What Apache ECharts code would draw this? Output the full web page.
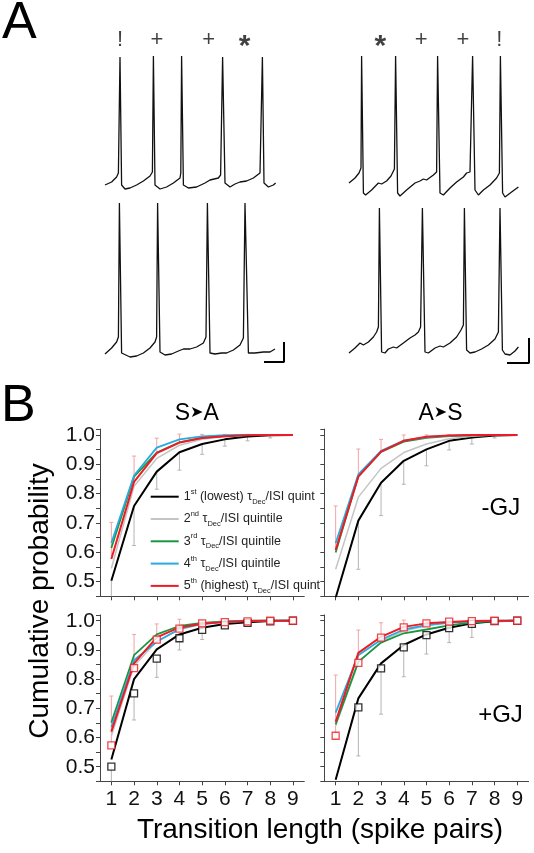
<!DOCTYPE html>
<html><head><meta charset="utf-8">
<script src="https://cdn.jsdelivr.net/npm/echarts@6/dist/echarts.min.js"></script>
<style>html,body{margin:0;padding:0;background:#fff}#c{width:534px;height:853px}</style>
</head><body><div id="c"></div>
<script>
const FONT = "'Liberation Sans', Arial, 'DejaVu Sans', sans-serif";

// ---------- Panel A: membrane potential traces (time in ms, voltage in mV) ----------
const tTL = [0,33,58,67,75,83,100,125,158,192,225,237,242,250,275,308,342,375,379,383,392,417,458,500,525,567,578,588,600,625,650,675,708,742,775,787,795,817,842,853];
const vTL = [-60,-57,-52,-48,68,-60,-64,-63,-60,-56,-51,-47,69,-60,-64,-62,-58,-53,-48,69,-60,-63,-62,-58,-55,-53,-50,68,-58,-62,-59,-57,-56,-53,-48,68,-58,-62,-60,-58];
const tTR = [0,30,50,60,63,72,83,113,147,163,188,210,227,233,243,255,288,330,355,372,388,422,438,443,455,472,505,538,572,588,605,613,618,630,647,672,705,738,752,757,768,780,813,847];
const vTR = [-58,-53,-48,-43,69,-68,-70,-65,-58,-59,-56,-51,-44,69,-68,-71,-65,-58,-56,-54,-55,-50,-47,69,-68,-70,-63,-57,-52,-48,-47,-46,69,-65,-70,-65,-60,-53,-48,69,-68,-72,-67,-62];
const tBL = [0,33,58,67,72,83,125,158,192,225,250,258,263,275,300,333,367,392,425,458,492,505,512,525,550,583,608,642,675,692,700,717,750,792,825,850];
const vBL = [-64,-58,-52,-47,87,-63,-67,-66,-63,-58,-52,-47,87,-62,-65,-64,-61,-59,-59,-57,-53,-47,87,-63,-64,-63,-63,-60,-55,-48,87,-63,-63,-62,-62,-59];
const tBR = [0,30,55,72,97,122,138,147,152,163,180,197,222,238,272,305,330,347,358,367,380,397,430,455,472,505,538,560,572,577,588,605,630,663,697,730,747,755,767,780,805,830,847];
const vBR = [-63,-58,-53,-55,-52,-47,-42,-37,82,-62,-63,-59,-57,-58,-53,-48,-45,-42,-37,82,-62,-63,-58,-56,-57,-53,-47,-40,-35,82,-60,-63,-62,-59,-55,-49,-42,82,-60,-64,-65,-61,-57];

// spike-pair annotations above the upper traces
const markTL_t = [75, 260, 518, 698];
const markTL_s = ['!', '+', '+', '*'];
const markTR_t = [157, 361, 570, 752];
const markTR_s = ['*', '+', '+', '!'];
const markLevel = 85; // mV

// scale bars: [end time ms, base mV, length ms, height mV]
const scaleBL = [895, -72, 100, 20];
const scaleBR = [900, -73, 110, 25];

// ---------- Panel B: cumulative probability ----------
const xCats = ['1','2','3','4','5','6','7','8','9'];
const qNames = ['1st','2nd','3rd','4th','5th'];
const qColors = ['#000000','#c4c4c4','#1a9641','#29aae1','#ed1c24'];
const qWidths = [2, 1.5, 1.8, 1.8, 2];

// S->A, -GJ
const saN_q1 = [0.503,0.758,0.875,0.941,0.969,0.985,0.995,0.999,1.0];
const saN_q2 = [0.545,0.825,0.920,0.965,0.985,0.995,0.999,1.0,1.0];
const saN_q3 = [0.615,0.858,0.940,0.975,0.990,0.997,1.0,1.0,1.0];
const saN_q4 = [0.632,0.862,0.957,0.985,0.995,0.999,1.0,1.0,1.0];
const saN_q5 = [0.577,0.840,0.938,0.974,0.990,0.996,0.999,1.0,1.0];
const saN_sd5 = [0.125,0.088,0.051,0.029,0.012,0.006,0.003,0.001,0];
const saN_sd1 = [0.08,0.135,0.06,0.061,0.035,0.023,0.015,0.009,0];
// A->S, -GJ
const asN_q1 = [0.445,0.708,0.837,0.912,0.951,0.980,0.991,0.998,1.0];
const asN_q2 = [0.542,0.788,0.886,0.940,0.969,0.987,0.996,1.0,1.0];
const asN_q3 = [0.599,0.860,0.942,0.977,0.990,0.996,0.999,1.0,1.0];
const asN_q4 = [0.631,0.866,0.946,0.981,0.993,0.998,1.0,1.0,1.0];
const asN_q5 = [0.608,0.858,0.943,0.980,0.994,0.998,1.0,1.0,1.0];
const asN_sd5 = [0.15,0.094,0.042,0.02,0.006,0.003,0.001,0,0];
const asN_sd1 = [0.1,0.166,0.112,0.08,0.056,0.031,0.022,0.008,0];
// S->A, +GJ
const saP_q1 = [0.525,0.800,0.902,0.953,0.976,0.989,0.995,0.999,1.0];
const saP_q2 = [0.605,0.845,0.930,0.970,0.988,0.996,0.999,1.0,1.0];
const saP_q3 = [0.651,0.882,0.953,0.982,0.993,0.998,1.0,1.0,1.0];
const saP_q4 = [0.635,0.865,0.928,0.972,0.990,0.997,0.999,1.0,1.0];
const saP_q5 = [0.620,0.854,0.943,0.977,0.990,0.996,0.999,1.0,1.0];
const saP_m1 = [0.500,0.751,0.870,0.940,0.969,0.984,0.993,0.998,1.0];
const saP_m5 = [0.573,0.838,0.935,0.973,0.991,0.995,0.998,1.0,1.0];
const saP_sd5 = [0.169,0.115,0.054,0.032,0.01,0.005,0.002,0,0];
const saP_sd1 = [0.1,0.091,0.064,0.04,0.033,0.01,0.005,0,0];
// A->S, +GJ
const asP_q1 = [0.455,0.734,0.854,0.917,0.953,0.976,0.991,0.998,1.0];
const asP_q2 = [0.640,0.855,0.930,0.965,0.983,0.993,0.998,1.0,1.0];
const asP_q3 = [0.645,0.860,0.925,0.957,0.970,0.984,0.994,0.999,1.0];
const asP_q4 = [0.685,0.882,0.935,0.970,0.985,0.994,0.998,1.0,1.0];
const asP_q5 = [0.654,0.890,0.945,0.979,0.991,0.996,0.999,1.0,1.0];
const asP_m1 = [0.449,0.703,0.837,0.909,0.951,0.975,0.989,0.999,1.0];
const asP_m5 = [0.606,0.856,0.942,0.977,0.991,0.997,0.999,1.0,1.0];
const asP_sd5 = [0.208,0.112,0.051,0.025,0.008,0.003,0.001,0,0];
const asP_sd1 = [0.1,0.166,0.157,0.101,0.065,0.05,0.046,0.009,0];

const legendLabels = {
  '1st': '1{s|st} (lowest) τ{d|Dec}/ISI quint',
  '2nd': '2{s|nd} τ{d|Dec}/ISI quintile',
  '3rd': '3{s|rd} τ{d|Dec}/ISI quintile',
  '4th': '4{s|th} τ{d|Dec}/ISI quintile',
  '5th': '5{s|th} (highest) τ{d|Dec}/ISI quint'
};

// ---------- build ----------
const zip = (a, b) => a.map((x, i) => [x, b[i]]);
const chart = echarts.init(document.getElementById('c'), null, {renderer: 'canvas'});

const grids = [
  {left:105, top:35, width:180, height:170},
  {left:349, top:35, width:180, height:170},
  {left:105, top:190, width:180, height:180},
  {left:349, top:190, width:180, height:180},
  {left:100, top:429.1, width:204.3, height:167.2},
  {left:324.3, top:429.1, width:204.3, height:167.2},
  {left:100, top:614.9, width:204.3, height:166.4},
  {left:324.3, top:614.9, width:204.3, height:166.4}
];

const xAxes = [], yAxes = [];
for (let i = 0; i < 4; i++) {
  xAxes.push({gridIndex:i, type:'value', min:0, max:900, show:false});
  yAxes.push({gridIndex:i, type:'value', min:-80, max: i < 2 ? 90 : 100, show:false});
}
const axCol = '#444';
for (let i = 4; i < 8; i++) {
  const bottomRow = i >= 6, leftCol = (i % 2) === 0;
  xAxes.push({gridIndex:i, type:'category', data:xCats, boundaryGap:true,
    axisLine:{show:true, onZero:false, lineStyle:{color:axCol, width:1}},
    axisTick:{show:true, alignWithLabel:true, length:4, lineStyle:{color:axCol}},
    axisLabel:{show:bottomRow, fontSize:21, color:'#111', margin:7, fontFamily:FONT},
    splitLine:{show:false}});
  yAxes.push({gridIndex:i, type:'value', min:0.45, max:1.02, interval:0.05,
    axisLine:{show:true, onZero:false, lineStyle:{color:axCol, width:1}},
    axisTick:{show:true, length:4, lineStyle:{color:axCol}},
    splitLine:{show:false},
    axisLabel:{show:leftCol, fontSize:21, color:'#111', margin:5, fontFamily:FONT, showMinLabel:true, showMaxLabel:true,
      formatter: v => { const k = Math.round(v * 100); return (k % 10 === 0 && k >= 50 && k <= 100) ? (k / 100).toFixed(1) : ''; }}});
}

const series = [];
const traces = [[tTL, vTL], [tTR, vTR], [tBL, vBL], [tBR, vBR]];
traces.forEach((tr, i) => {
  series.push({type:'line', xAxisIndex:i, yAxisIndex:i, data: zip(tr[0], tr[1]), symbol:'none',
    lineStyle:{color:'#111', width:1.3}, silent:true});
});
[[2, scaleBL], [3, scaleBR]].forEach(([gi, s]) => {
  const [tEnd, vBase, len, h] = s;
  series.push({type:'line', xAxisIndex:gi, yAxisIndex:gi, data: [[tEnd - len, vBase], [tEnd, vBase], [tEnd, vBase + h]],
    symbol:'none', lineStyle:{color:'#000', width:2}, silent:true});
});
[[0, markTL_t, markTL_s], [1, markTR_t, markTR_s]].forEach(([gi, ts, ss]) => {
  series.push({type:'scatter', xAxisIndex:gi, yAxisIndex:gi, symbolSize:0, silent:true,
    data: ts.map((t, k) => {
      const star = ss[k] === '*';
      return {value:[t, markLevel], label:{show:true, position:'inside', formatter: ss[k],
        fontSize: star ? 30 : 22, fontWeight: star ? 'bold' : 'normal', color:'#111', fontFamily:FONT,
        offset: star ? [0, 7] : [0, 0]}};
    })});
});

function errRender(params, api) {
  const i = api.value(0);
  const p0 = api.coord([i, api.value(1)]);
  const p1 = api.coord([i, api.value(2)]);
  const col = api.visual('color');
  if (Math.abs(p1[1] - p0[1]) < 0.5) return null;
  return {type:'group', children:[
    {type:'line', shape:{x1:p0[0], y1:p0[1], x2:p1[0], y2:p1[1]}, style:{stroke:col, lineWidth:1}},
    {type:'line', shape:{x1:p1[0]-2, y1:p1[1], x2:p1[0]+2, y2:p1[1]}, style:{stroke:col, lineWidth:1}}
  ]};
}

const panels = [
  {gi:4, q:[saN_q1,saN_q2,saN_q3,saN_q4,saN_q5], m1:saN_q1, m5:saN_q5, sd1:saN_sd1, sd5:saN_sd5, sq:false},
  {gi:5, q:[asN_q1,asN_q2,asN_q3,asN_q4,asN_q5], m1:asN_q1, m5:asN_q5, sd1:asN_sd1, sd5:asN_sd5, sq:false},
  {gi:6, q:[saP_q1,saP_q2,saP_q3,saP_q4,saP_q5], m1:saP_m1, m5:saP_m5, sd1:saP_sd1, sd5:saP_sd5, sq:true},
  {gi:7, q:[asP_q1,asP_q2,asP_q3,asP_q4,asP_q5], m1:asP_m1, m5:asP_m5, sd1:asP_sd1, sd5:asP_sd5, sq:true}
];
panels.forEach(p => {
  series.push({type:'custom', xAxisIndex:p.gi, yAxisIndex:p.gi, renderItem:errRender, clip:true, z:1, silent:true,
    itemStyle:{color:'#b4b4b4'}, data: p.m1.map((m, i) => [i, m, m - p.sd1[i]])});
  series.push({type:'custom', xAxisIndex:p.gi, yAxisIndex:p.gi, renderItem:errRender, clip:true, z:1, silent:true,
    itemStyle:{color:'#f2a3a3'}, data: p.m5.map((m, i) => [i, m, m + p.sd5[i]])});
  p.q.forEach((vals, k) => {
    series.push({type:'line', name:qNames[k], xAxisIndex:p.gi, yAxisIndex:p.gi, data:vals, symbol:'none',
      lineStyle:{color:qColors[k], width:qWidths[k]}, itemStyle:{color:qColors[k]}, z:2 + k, silent:true});
  });
  if (p.sq) {
    [[p.m1, '#000000'], [p.m5, '#ed1c24']].forEach(([vals, c]) => {
      series.push({type:'scatter', xAxisIndex:p.gi, yAxisIndex:p.gi, data:vals, symbol:'rect', symbolSize:7, z:10, silent:true,
        itemStyle:{color:'#ffffff', borderColor:c, borderWidth:1.3}});
    });
  }
});

const graphics = [
  {type:'text', x:2, y:24, style:{text:'A', fontSize:52, fontFamily:FONT, fill:'#000', align:'left', verticalAlign:'middle'}},
  {type:'text', x:1, y:406.5, style:{text:'B', fontSize:52, fontFamily:FONT, fill:'#000', align:'left', verticalAlign:'middle'}},
  {type:'text', x:196.7, y:413.3, style:{text:'S{a|➤}A', fontSize:23, fontFamily:FONT, fill:'#000', align:'center', verticalAlign:'middle',
    rich:{a:{fontSize:16, fontFamily:"'DejaVu Sans', sans-serif", fill:'#000'}}}},
  {type:'text', x:440.5, y:413.3, style:{text:'A{a|➤}S', fontSize:23, fontFamily:FONT, fill:'#000', align:'center', verticalAlign:'middle',
    rich:{a:{fontSize:16, fontFamily:"'DejaVu Sans', sans-serif", fill:'#000'}}}},
  {type:'text', x:500.8, y:508.3, style:{text:'-GJ', fontSize:24, fontFamily:FONT, fill:'#000', align:'center', verticalAlign:'middle'}},
  {type:'text', x:500.5, y:715, style:{text:'+GJ', fontSize:24, fontFamily:FONT, fill:'#000', align:'center', verticalAlign:'middle'}},
  {type:'text', x:40, y:601, rotation:Math.PI/2, style:{text:'Cumulative probability', fontSize:28, fontFamily:FONT, fill:'#000', align:'center', verticalAlign:'middle'}},
  {type:'text', x:320, y:830, style:{text:'Transition length (spike pairs)', fontSize:28, fontFamily:FONT, fill:'#000', align:'center', verticalAlign:'middle'}}
];

chart.setOption({
  animation:false,
  backgroundColor:'#ffffff',
  grid: grids,
  xAxis: xAxes,
  yAxis: yAxes,
  legend: {data: qNames, orient:'vertical', left:145.7, top:482.7, itemWidth:28, itemHeight:2, itemGap:4.3, icon:'rect', selectedMode:false,
    formatter: n => legendLabels[n],
    textStyle:{fontSize:12.5, lineHeight:18, color:'#222', fontFamily:FONT,
      rich:{s:{fontSize:7.5, lineHeight:9, verticalAlign:'top', color:'#222', fontFamily:FONT},
            d:{fontSize:7.5, lineHeight:9, verticalAlign:'bottom', color:'#222', fontFamily:FONT}}}},
  series: series,
  graphic: graphics
});
</script></body></html>
